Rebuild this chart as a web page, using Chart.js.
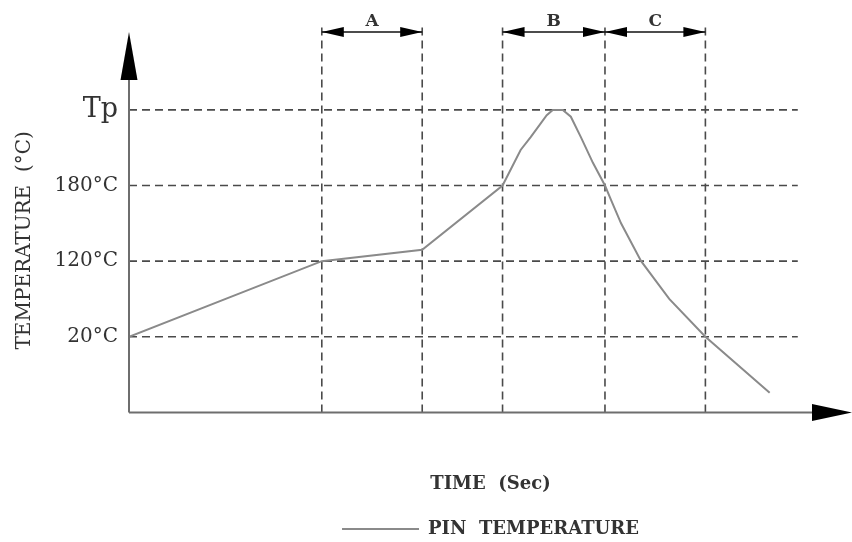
<!DOCTYPE html>
<html>
<head>
<meta charset="utf-8">
<script src="https://cdn.jsdelivr.net/npm/chart.js@4.4.1/dist/chart.umd.min.js"></script>
<style>
  html, body { margin: 0; padding: 0; background: #fff; }
</style>
</head>
<body>
<canvas id="profileChart" width="852" height="542"></canvas>
<script>
// pin temperature profile (time in sec, temperature as level index on the schematic axis)
const times  = [0, 96, 146, 186, 195, 200, 208, 211, 216, 220, 225, 231, 237, 240, 245, 255, 269, 287, 319];
const levels = [1, 2, 2.15, 3, 3.47, 3.64, 3.93, 4, 4, 3.91, 3.64, 3.3, 3, 2.81, 2.5, 2, 1.5, 1, 0.26];

// y axis levels and their labels
const levelTicks = [1, 2, 3, 4];
const tickLabels = ['20°C', '120°C', '180°C', 'Tp'];

// vertical markers and the A / B / C zones
const timeMarks  = [96, 146, 186, 237, 287];
const zoneNames  = ['A', 'B', 'C'];
const zoneStart  = [96, 186, 237];
const zoneEnd    = [146, 237, 287];
const gridEnd    = 333;

const serif = "'DejaVu Serif', 'Liberation Serif', serif";

function arrowHead(ctx, x, y, dir, len, half) {
  // dir: 'left' | 'right' | 'up'
  ctx.beginPath();
  if (dir === 'left') {
    ctx.moveTo(x, y); ctx.lineTo(x + len, y - half); ctx.lineTo(x + len, y + half);
  } else if (dir === 'right') {
    ctx.moveTo(x, y); ctx.lineTo(x - len, y - half); ctx.lineTo(x - len, y + half);
  } else {
    ctx.moveTo(x, y); ctx.lineTo(x - half, y + len); ctx.lineTo(x + half, y + len);
  }
  ctx.closePath();
  ctx.fill();
}

const decor = {
  id: 'decor',
  beforeDatasetsDraw(chart) {
    const { ctx, chartArea } = chart;
    const xs = chart.scales.x, ys = chart.scales.y;
    const x0 = xs.getPixelForValue(0), y0 = ys.getPixelForValue(0);
    ctx.save();
    ctx.strokeStyle = '#4a4a4a';
    ctx.lineWidth = 1.6;
    ctx.setLineDash([8, 5]);
    levelTicks.forEach(v => {
      const y = ys.getPixelForValue(v);
      ctx.beginPath();
      ctx.moveTo(x0, y);
      ctx.lineTo(xs.getPixelForValue(gridEnd), y);
      ctx.stroke();
    });
    timeMarks.forEach(t => {
      const x = xs.getPixelForValue(t);
      ctx.beginPath();
      ctx.moveTo(x, y0);
      ctx.lineTo(x, chartArea.top - 8);
      ctx.stroke();
    });
    ctx.restore();
  },
  afterDraw(chart) {
    const { ctx, chartArea } = chart;
    const xs = chart.scales.x, ys = chart.scales.y;
    const x0 = xs.getPixelForValue(0), y0 = ys.getPixelForValue(0);
    ctx.save();
    // axes
    ctx.strokeStyle = '#6e6e6e';
    ctx.lineWidth = 2;
    ctx.beginPath();
    ctx.moveTo(x0, y0); ctx.lineTo(x0, chartArea.top + 40);
    ctx.moveTo(x0, y0); ctx.lineTo(chartArea.right - 30, y0);
    ctx.stroke();
    ctx.fillStyle = '#000';
    arrowHead(ctx, x0, chartArea.top, 'up', 48, 8.5);
    arrowHead(ctx, chartArea.right, y0, 'right', 40, 8.5);

    // y axis title, a bit below the middle of the axis
    ctx.save();
    ctx.translate(25, (ys.getPixelForValue(levelTicks[0]) + ys.getPixelForValue(levelTicks[3])) / 2 + 17);
    ctx.rotate(-Math.PI / 2);
    ctx.fillStyle = '#333';
    ctx.font = '20px ' + serif;
    ctx.textAlign = 'center';
    ctx.textBaseline = 'middle';
    ctx.fillText('TEMPERATURE  (°C)', 0, 0);
    ctx.restore();

    // zone dimension arrows
    const ya = chartArea.top;
    ctx.strokeStyle = '#111';
    ctx.lineWidth = 1.5;
    ctx.font = 'bold 17px ' + serif;
    ctx.textAlign = 'center';
    ctx.textBaseline = 'middle';
    zoneNames.forEach((name, i) => {
      const xa = xs.getPixelForValue(zoneStart[i]);
      const xb = xs.getPixelForValue(zoneEnd[i]);
      ctx.beginPath();
      ctx.moveTo(xa, ya); ctx.lineTo(xb, ya);
      ctx.stroke();
      ctx.fillStyle = '#000';
      arrowHead(ctx, xa, ya, 'left', 22, 5);
      arrowHead(ctx, xb, ya, 'right', 22, 5);
      ctx.fillStyle = '#333';
      ctx.fillText(name, (xa + xb) / 2, ya - 10);
    });
    ctx.restore();
  }
};

new Chart(document.getElementById('profileChart'), {
  type: 'line',
  data: {
    datasets: [{
      label: 'PIN  TEMPERATURE',
      data: times.map((t, i) => ({ x: t, y: levels[i] })),
      borderColor: '#8a8a8a',
      backgroundColor: '#8a8a8a',
      borderWidth: 2,
      pointRadius: 0,
      pointStyle: 'line',
      tension: 0
    }]
  },
  options: {
    responsive: false,
    animation: false,
    layout: { padding: { top: 32, left: 0, right: 0, bottom: -6 } },
    scales: {
      x: {
        type: 'linear',
        min: 0,
        max: 360,
        grid: { display: false, drawTicks: false },
        border: { display: false },
        ticks: { display: false },
        title: {
          display: true,
          text: 'TIME  (Sec)',
          color: '#333',
          font: { family: serif, size: 18, weight: 'bold' },
          padding: { top: 61, bottom: 21 }
        }
      },
      y: {
        min: 0,
        max: 5.03,
        grid: { display: false, drawTicks: false },
        border: { display: false },
        afterBuildTicks: s => { s.ticks = levelTicks.map(v => ({ value: v })); },
        afterFit: s => { s.width = 129; },
        ticks: {
          color: '#333',
          padding: 11,
          callback: (v, i) => tickLabels[i],
          font: c => ({ family: serif, size: c.index === tickLabels.length - 1 ? 27 : 20 })
        },
        title: { display: false }
      }
    },
    plugins: {
      legend: {
        position: 'bottom',
        fullSize: false,
        labels: {
          usePointStyle: true,
          pointStyleWidth: 77,
          color: '#333',
          font: { family: serif, size: 18, weight: 'bold' },
          padding: 4
        }
      },
      tooltip: { enabled: false }
    }
  },
  plugins: [decor]
});
</script>
</body>
</html>
